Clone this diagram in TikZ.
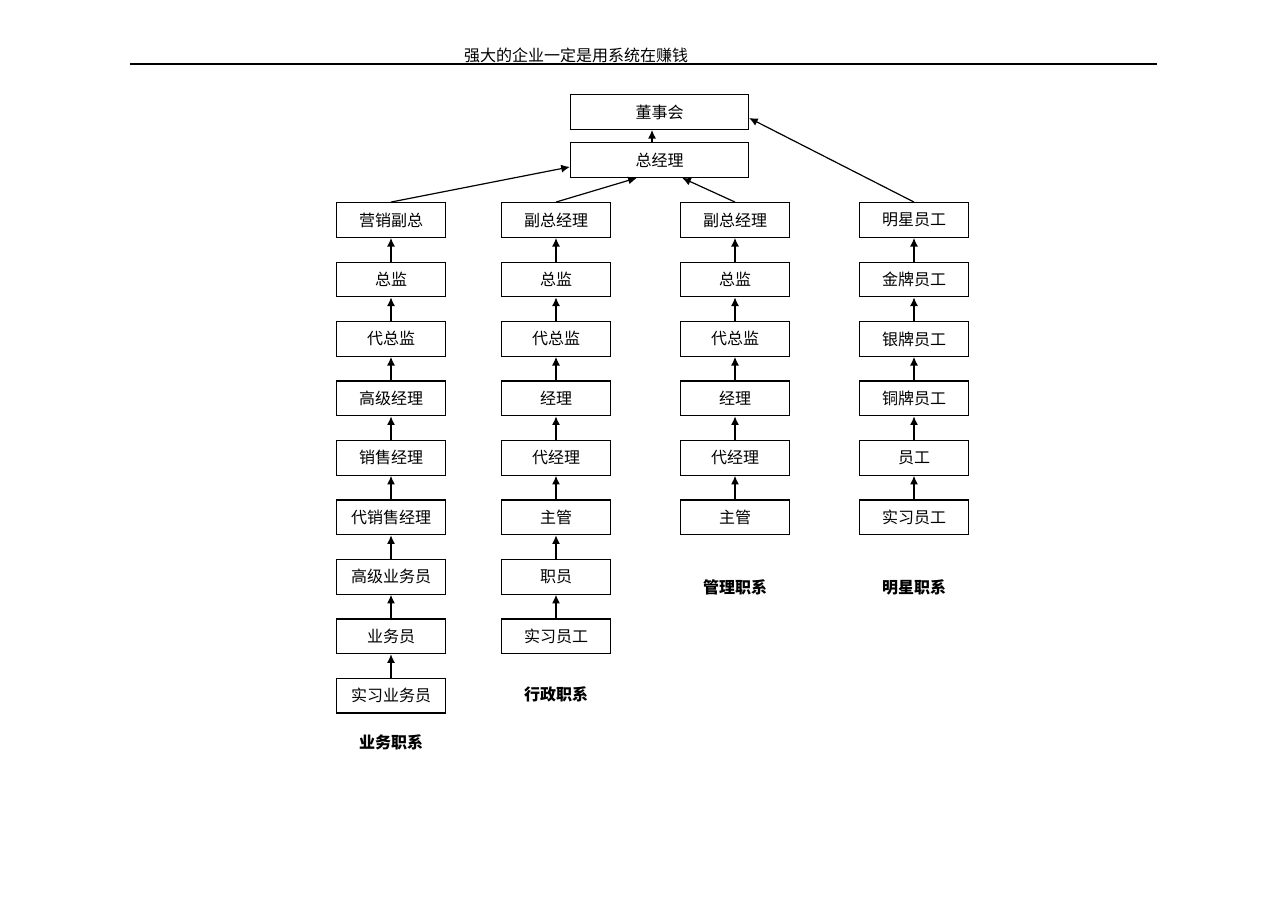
\documentclass[tikz,border=0pt]{standalone}
\usepackage{fontspec}
\setmainfont{Noto Sans CJK SC}
\usetikzlibrary{positioning,arrows.meta}

\begin{document}
\begin{tikzpicture}[x=0.75pt,y=-0.75pt,>={Latex[length=6.5pt,width=6pt]},node distance=17.7pt,line width=0.9pt]
  \tikzstyle{every node}=[font=\fontsize{12}{14}\selectfont]
  \tikzstyle{post}=[draw=black,minimum width=82pt,minimum height=26pt,inner sep=1pt]
  \tikzstyle{top post}=[post,minimum width=133.5pt]
  \tikzstyle{track}=[font=\bfseries\fontsize{12}{14}\selectfont]

  \useasboundingbox (0,0) rectangle (1286,909);

  % Title
  \node (title) at (576,55) {强大的企业一定是用系统在赚钱};
  \coordinate (rule l) at (130,64);
  \coordinate (rule r) at (1157,64);
  \draw (rule l) -- (rule r);

  % Top
  \node[top post] (board) at (659.5,112) {董事会};
  \node[top post] (gm) at (659.5,160) {总经理};

  % Business track
  \node[post] (yw1) at (391,220) {营销副总};
  \node[post] (yw2) [below=of yw1] {总监};
  \node[post] (yw3) [below=of yw2] {代总监};
  \node[post] (yw4) [below=of yw3] {高级经理};
  \node[post] (yw5) [below=of yw4] {销售经理};
  \node[post] (yw6) [below=of yw5] {代销售经理};
  \node[post] (yw7) [below=of yw6] {高级业务员};
  \node[post] (yw8) [below=of yw7] {业务员};
  \node[post] (yw9) [below=of yw8] {实习业务员};

  % Admin track
  \node[post] (xz1) at (556,220) {副总经理};
  \node[post] (xz2) [below=of xz1] {总监};
  \node[post] (xz3) [below=of xz2] {代总监};
  \node[post] (xz4) [below=of xz3] {经理};
  \node[post] (xz5) [below=of xz4] {代经理};
  \node[post] (xz6) [below=of xz5] {主管};
  \node[post] (xz7) [below=of xz6] {职员};
  \node[post] (xz8) [below=of xz7] {实习员工};

  % Management track
  \node[post] (gl1) at (735,220) {副总经理};
  \node[post] (gl2) [below=of gl1] {总监};
  \node[post] (gl3) [below=of gl2] {代总监};
  \node[post] (gl4) [below=of gl3] {经理};
  \node[post] (gl5) [below=of gl4] {代经理};
  \node[post] (gl6) [below=of gl5] {主管};

  % Star track
  \node[post] (mx1) at (914,220) {明星员工};
  \node[post] (mx2) [below=of mx1] {金牌员工};
  \node[post] (mx3) [below=of mx2] {银牌员工};
  \node[post] (mx4) [below=of mx3] {铜牌员工};
  \node[post] (mx5) [below=of mx4] {员工};
  \node[post] (mx6) [below=of mx5] {实习员工};

  % Track names
  \node[track] (ywT) at (391,742) {业务职系};
  \node[track] (xzT) at (556,694) {行政职系};
  \node[track] (glT) at (735,587) {管理职系};
  \node[track] (mxT) at (914,587) {明星职系};

  % Promotions
  \path[->]
    ([xshift=-5.6pt]gm.north) edge ([xshift=-5.6pt]board.south)
    (yw1.north) edge ([yshift=-5.2pt]gm.west)
    (xz1.north) edge ([xshift=-17pt]gm.south)
    (gl1.north) edge ([xshift=17pt]gm.south)
    (mx1.north) edge ([yshift=-4.5pt]board.east)

    (yw2) edge (yw1) (yw3) edge (yw2) (yw4) edge (yw3) (yw5) edge (yw4)
    (yw6) edge (yw5) (yw7) edge (yw6) (yw8) edge (yw7) (yw9) edge (yw8)

    (xz2) edge (xz1) (xz3) edge (xz2) (xz4) edge (xz3) (xz5) edge (xz4)
    (xz6) edge (xz5) (xz7) edge (xz6) (xz8) edge (xz7)

    (gl2) edge (gl1) (gl3) edge (gl2) (gl4) edge (gl3) (gl5) edge (gl4)
    (gl6) edge (gl5)

    (mx2) edge (mx1) (mx3) edge (mx2) (mx4) edge (mx3) (mx5) edge (mx4)
    (mx6) edge (mx5);
\end{tikzpicture}
\end{document}
